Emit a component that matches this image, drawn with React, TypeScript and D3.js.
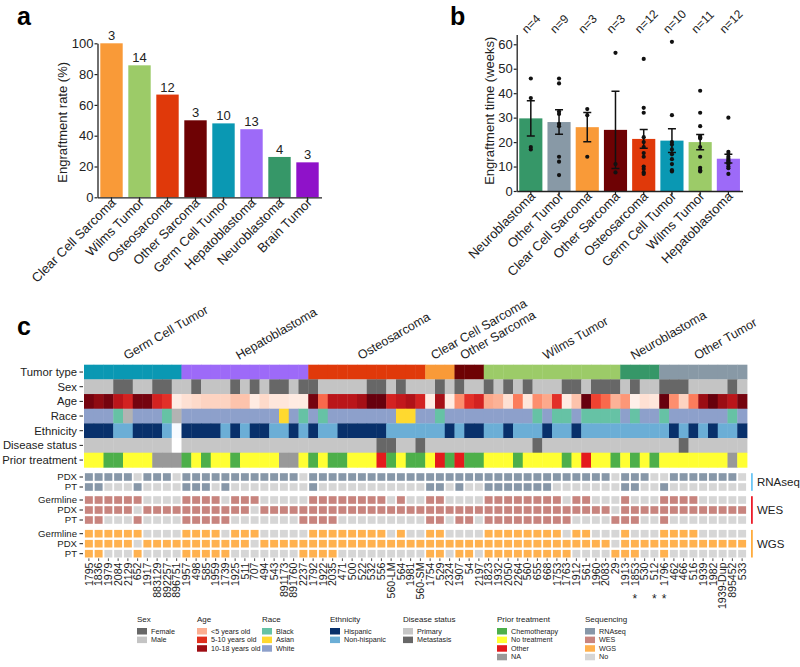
import React, { useEffect, useRef } from 'react';
import * as d3 from 'd3';

const FONT = "'Liberation Sans', Arial, Helvetica, sans-serif";

// ---- panel a: engraftment rate
const rateTypes = ['Clear Cell Sarcoma', 'Wilms Tumor', 'Osteosarcoma', 'Other Sarcoma', 'Germ Cell Tumor', 'Hepatoblastoma', 'Neuroblastoma', 'Brain Tumor'];
const rateValues = [100, 85.7, 66.7, 50, 48, 44.2, 26.2, 22.7];
const rateCounts = [3, 14, 12, 3, 10, 13, 4, 3];

// ---- panel b: engraftment time
const timeTypes = ['Neuroblastoma', 'Other Tumor', 'Clear Cell Sarcoma', 'Other Sarcoma', 'Osteosarcoma', 'Germ Cell Tumor', 'Wilms Tumor', 'Hepatoblastoma'];
const timeMeans = [29.7, 28.2, 26.1, 25.0, 21.3, 20.6, 20.0, 13.2];
const timeSem = [7.2, 5.0, 6.0, 15.8, 3.8, 4.9, 3.1, 1.8];
const timeCounts = [4, 9, 3, 3, 12, 10, 11, 12];
const timePoints = [
  [46, 38, 18, 17],
  [46, 44, 32.5, 31.5, 27.5, 26.5, 14, 12, 6.5],
  [33.5, 31, 14],
  [56.5, 11, 7.6],
  [54, 34, 32, 22, 20, 18, 15.5, 14, 10, 9, 7.6, 7],
  [61, 31, 20, 19, 17, 15, 13, 11, 8.5, 8],
  [41, 32, 26.5, 22.5, 21.5, 18, 14, 9.5, 8.5, 8, 22],
  [30, 16, 15, 14, 13.2, 12.5, 12, 11.5, 11, 10, 9.3, 7],
];

// ---- panel c: sample annotation heatmap
const samples = ['1795', '1836', '1979', '2084', '2129', '652', '1917', '883129', '892257', '896751',
  '1957', '498', '585', '1959', '1739', '1925', '511', '707', '494', '543', '891173', '891760', '2237',
  '1792', '1922', '2035', '471', '500', '522', '532', '556', '560-LM', '564', '1981', '560-SM',
  '1754', '529', '2324', '1907', '54', '2197',
  '1823', '1932', '2050', '2264', '560', '655', '668', '1753', '1763', '1912', '561', '1960', '2083', '29',
  '1913', '1853', '530', '512',
  '1796', '462', '466', '516', '1939', '1982', '1939-Dup', '895452', '533'];
const starred = ['1853', '512', '1796'];
const groupNames = ['Germ Cell Tumor', 'Hepatoblastoma', 'Osteosarcoma', 'Clear Cell Sarcoma', 'Other Sarcoma', 'Wilms Tumor', 'Neuroblastoma', 'Other Tumor'];
const groupSizes = [10, 13, 12, 3, 3, 14, 4, 9];
const sexCodes = ('MMMFFMMFFM' + 'MFMMMFMFMF' + 'FMFFMMMMMF' + 'FMFMMMFMFM' + 'MFMFMFMMMF' + 'FMFFFMFMMF' + 'FFMMMMFM').split('');
const ages = [17.5, 16.5, 17.5, 14.5, 13, 17.5, 17.5, 13, 12, 1,
  2, 2.5, 3, 3, 3, 4, 4, 1, 2.5, 1.5,
  1.5, 1, 1, 17.5, 9, 14.5, 14.5, 14.5, 15.5, 18,
  18, 13, 14, 15, 13, 1, 15.5, 1, 7, 12,
  13, 5.5, 5, 2, 8, 1.5, 7, 5.5, 12, 1,
  4, 18, 11, 9, 5, 6.5, 0.5, 2, 1.5, 18,
  7, 3, 8, 16, 18, 16, 14.5, 17.5];
const raceCodes = ('WWWBUWWWBU' + 'WWWWWWWWWW' + 'AWBWBWWWWW' + 'WWAAWWBWWW' + 'WWWWWWBWBB' + 'WBBBBWBWWB' + 'WWWWWWBW').split('');
const ethnicityCodes = ('HHHNNHHHNX' + 'HHHHNHNHHN' + 'NHNHNNHHHH' + 'HNNNNNNHNH' + 'HNNHNNNHNN' + 'HNNNNNNNNN' + 'HNHNHNNH').split('');
const diseaseCodes = ('PPPPPPPPPX' + 'PPPPPPPPPP' + 'PPPPPPPPPP' + 'MMPPMPPPPP' + 'PPPPPPMPPP' + 'PPPPPPPPPP' + 'PMPPPPPP').split('');
const priorCodes = ('YYCCYYYAAA' + 'CYCYYCYYYY' + 'AAYCYCCYYY' + 'OCYCCYOCOC' + 'CYYYCYYYYC' + 'YOYYCYCYCY' + 'YYYYYYAY').split('');
const rnaPdx = '1111101110' + '1111111111' + '1101111111' + '1111111111' + '1111111111' + '1111011100' + '11111110';
const rnaPt = '1100010000' + '1110100000' + '0001000000' + '0000011010' + '0111111100' + '0000011001' + '00000000';
const wesGermline = '1111110000' + '1111011100' + '0001111111' + '1010011000' + '0111111110' + '1100010001' + '11100000';
const wesPdx = '1111101111' + '1111111011' + '1111111111' + '1111111111' + '1111111111' + '1111011111' + '11111111';
const wesPt = '1100010000' + '1111100000' + '0011110000' + '0000011011' + '0111111111' + '0000111001' + '00000000';
const wgsGermline = '1111110000' + '1111011100' + '0001111111' + '1010011000' + '0111111110' + '1100010001' + '11100000';
const wgsPdx = '1111101111' + '1111111011' + '1111111111' + '1111111111' + '1111111111' + '1111011111' + '11111111';
const wgsPt = '1100010000' + '1111100000' + '0011110000' + '0000011011' + '0111111111' + '0000111001' + '00000000';

const typeColors: Record<string, string> = {
  'Germ Cell Tumor': '#0a98b3',
  'Hepatoblastoma': '#9d6af8',
  'Osteosarcoma': '#e0390a',
  'Clear Cell Sarcoma': '#f99a38',
  'Other Sarcoma': '#6e0204',
  'Wilms Tumor': '#9ccb68',
  'Neuroblastoma': '#369768',
  'Other Tumor': '#8899a6',
  'Brain Tumor': '#8f12c9',
};
const sexColors: Record<string, string> = { F: '#676767', M: '#c4c4c4' };
const raceColors: Record<string, string> = { W: '#8da0cb', B: '#66c2a5', A: '#ffd92f', U: '#b3b3b3' };
const ethnicityColors: Record<string, string> = { H: '#08306b', N: '#6baed6', X: '#f7fbff' };
const diseaseColors: Record<string, string> = { P: '#c6c6c6', M: '#676767', X: '#ffffff' };
const priorColors: Record<string, string> = { C: '#4daf4a', Y: '#ffff33', O: '#e41a1c', A: '#999999' };
const ageColor = d3.scaleSequential(d3.interpolateReds).domain([0, 18]);
const seqNo = '#d6d6d6';

const legends = [
  { title: 'Sex', items: [['Female', '#676767'], ['Male', '#c4c4c4']] },
  { title: 'Age', items: [['<5 years old', '#fcae91'], ['5-10 years old', '#e0301e'], ['10-18 years old', '#9e0d14']] },
  { title: 'Race', items: [['Black', '#66c2a5'], ['Asian', '#ffd92f'], ['White', '#8da0cb']] },
  { title: 'Ethnicity', items: [['Hispanic', '#08306b'], ['Non-hispanic', '#6baed6']] },
  { title: 'Disease status', items: [['Primary', '#c6c6c6'], ['Metastasis', '#676767']] },
  { title: 'Prior treatment', items: [['Chemotherapy', '#4daf4a'], ['No treatment', '#ffff33'], ['Other', '#e41a1c'], ['NA', '#999999']] },
  { title: 'Sequencing', items: [['RNAseq', '#8797a8'], ['WES', '#c8847e'], ['WGS', '#ffb14e'], ['No', seqNo]] },
];
const legendX = [137, 197, 262, 330, 403, 497, 585];

type Sel = d3.Selection<SVGGElement, unknown, null, undefined>;

function styleAxis(ax: Sel, size: number) {
  ax.select('.domain').attr('stroke', '#222').attr('stroke-width', 1.3);
  ax.selectAll('.tick line').attr('stroke', '#222').attr('stroke-width', 1.2);
  ax.selectAll('.tick text').attr('fill', '#222').attr('font-size', size).attr('font-family', FONT);
}

function drawRate(root: Sel) {
  const g = root.append('g');
  const x = d3.scaleBand().domain(rateTypes).range([97.5, 321.5]).paddingInner(0.2).paddingOuter(0.1);
  const y = d3.scaleLinear().domain([0, 100]).range([197.3, 43.3]);
  g.selectAll('rect.bar').data(rateTypes).join('rect')
    .attr('x', d => x(d)!).attr('width', x.bandwidth())
    .attr('y', (d, i) => y(rateValues[i])).attr('height', (d, i) => y(0) - y(rateValues[i]))
    .attr('fill', d => typeColors[d]);
  g.selectAll('text.cnt').data(rateTypes).join('text')
    .attr('x', d => x(d)! + x.bandwidth() / 2).attr('y', (d, i) => y(rateValues[i]) - 3)
    .attr('text-anchor', 'middle').attr('font-size', 13).attr('fill', '#222')
    .text((d, i) => rateCounts[i]);
  const ya = g.append('g').attr('transform', `translate(${x.range()[0]},0)`)
    .call(d3.axisLeft(y).tickValues([0, 20, 40, 60, 80, 100]).tickSize(3).tickPadding(1).tickSizeOuter(0));
  styleAxis(ya, 13);
  const xa = g.append('g').attr('transform', `translate(0,${y(0)})`)
    .call(d3.axisBottom(x).tickSize(4).tickSizeOuter(0));
  styleAxis(xa, 13);
  xa.selectAll('.tick text').attr('text-anchor', 'end').attr('x', 0).attr('y', 0)
    .attr('dy', '0.35em').attr('transform', 'translate(2,3) rotate(-45)');
  g.append('text').attr('transform', `translate(67,${(y(0) + y(100)) / 2 + 2}) rotate(-90)`)
    .attr('text-anchor', 'middle').attr('font-size', 13).attr('fill', '#222').text('Engraftment rate (%)');
  g.append('text').attr('x', 17).attr('y', 25).attr('font-size', 25).attr('font-weight', 'bold').text('a');
}

function drawTime(root: Sel) {
  const g = root.append('g');
  const x = d3.scaleBand().domain(timeTypes).range([516.7, 742.5]).paddingInner(0.18).paddingOuter(0.09);
  const y = d3.scaleLinear().domain([0, 64]).range([191, 34.5]);
  const cx = (d: string) => x(d)! + x.bandwidth() / 2;
  g.selectAll('rect.bar').data(timeTypes).join('rect')
    .attr('x', d => x(d)!).attr('width', x.bandwidth())
    .attr('y', (d, i) => y(timeMeans[i])).attr('height', (d, i) => y(0) - y(timeMeans[i]))
    .attr('fill', d => typeColors[d]);
  timeTypes.forEach((d, i) => {
    const lo = y(timeMeans[i] - timeSem[i]);
    const hi = y(timeMeans[i] + timeSem[i]);
    const c = cx(d);
    g.append('path').attr('d', `M${c},${lo}V${hi}M${c - 4},${lo}H${c + 4}M${c - 4},${hi}H${c + 4}`)
      .attr('stroke', '#111').attr('stroke-width', 1.5).attr('fill', 'none');
    g.selectAll(null).data(timePoints[i]).join('circle')
      .attr('cx', c).attr('cy', v => y(v)).attr('r', 2.1).attr('fill', '#111');
    g.append('text').attr('transform', `translate(${c - 4},34) rotate(-45)`)
      .attr('font-size', 12).attr('fill', '#222').text(`n=${timeCounts[i]}`);
  });
  const ya = g.append('g').attr('transform', `translate(${x.range()[0]},0)`)
    .call(d3.axisLeft(y).tickValues([0, 10, 20, 30, 40, 50, 60]).tickSize(3).tickPadding(1).tickSizeOuter(0));
  styleAxis(ya, 13);
  const xa = g.append('g').attr('transform', `translate(0,${y(0)})`)
    .call(d3.axisBottom(x).tickSize(4).tickSizeOuter(0));
  styleAxis(xa, 13);
  xa.selectAll('.tick text').attr('text-anchor', 'end').attr('x', 0).attr('y', 0)
    .attr('dy', '0.35em').attr('transform', 'translate(2,3) rotate(-45)');
  g.append('text').attr('transform', `translate(494,${(y(0) + y(64)) / 2 - 2}) rotate(-90)`)
    .attr('text-anchor', 'middle').attr('font-size', 13).attr('fill', '#222').text('Engraftment time (weeks)');
  g.append('text').attr('x', 450).attr('y', 25).attr('font-size', 25).attr('font-weight', 'bold').text('b');
}

function drawHeat(root: Sel) {
  const g = root.append('g');
  const idx = d3.range(samples.length);
  const x = d3.scaleBand<number>().domain(idx).range([84, 747]);
  const bw = x.bandwidth();
  const cx = (i: number) => x(i)! + bw / 2;
  const tumorType: string[] = [];
  groupNames.forEach((n, k) => { for (let j = 0; j < groupSizes[k]; j++) tumorType.push(n); });

  const annY0 = 364.7;
  const annH = 14.67;
  const annRows = [
    { name: 'Tumor type', fill: (i: number) => typeColors[tumorType[i]] },
    { name: 'Sex', fill: (i: number) => sexColors[sexCodes[i]] },
    { name: 'Age', fill: (i: number) => ageColor(ages[i]) },
    { name: 'Race', fill: (i: number) => raceColors[raceCodes[i]] },
    { name: 'Ethnicity', fill: (i: number) => ethnicityColors[ethnicityCodes[i]] },
    { name: 'Disease status', fill: (i: number) => diseaseColors[diseaseCodes[i]] },
    { name: 'Prior treatment', fill: (i: number) => priorColors[priorCodes[i]] },
  ];
  annRows.forEach((row, r) => {
    const yy = annY0 + r * annH;
    g.selectAll(null).data(idx).join('rect')
      .attr('x', i => x(i)!).attr('y', yy).attr('width', bw + 0.4).attr('height', annH + 0.3)
      .attr('fill', i => row.fill(i));
    g.append('line').attr('x1', 79.5).attr('x2', 83).attr('y1', yy + annH / 2).attr('y2', yy + annH / 2)
      .attr('stroke', '#222').attr('stroke-width', 1);
    g.append('text').attr('x', 77).attr('y', yy + annH / 2).attr('dy', '0.35em')
      .attr('text-anchor', 'end').attr('font-size', 11.3).attr('fill', '#222').text(row.name);
  });

  // group titles
  let start = 0;
  groupNames.forEach((n, k) => {
    const mid = (x(start)! + x(start + groupSizes[k] - 1)! + bw) / 2;
    g.append('text').attr('transform', `translate(${mid - 6},360) rotate(-30)`)
      .attr('font-size', 12.5).attr('fill', '#222').text(n);
    start += groupSizes[k];
  });

  const blocks = [
    { name: 'RNAseq', y0: 472.2, color: '#8797a8', bar: '#6cc6f4', rows: [['PDX', rnaPdx], ['PT', rnaPt]] },
    { name: 'WES', y0: 495.2, color: '#c8847e', bar: '#ec1c2a', rows: [['Germline', wesGermline], ['PDX', wesPdx], ['PT', wesPt]] },
    { name: 'WGS', y0: 528.9, color: '#ffb14e', bar: '#ffac3e', rows: [['Germline', wgsGermline], ['PDX', wgsPdx], ['PT', wgsPt]] },
  ];
  const pitch = 10;
  blocks.forEach(b => {
    b.rows.forEach(([label, vals], r) => {
      const top = b.y0 + r * pitch;
      g.selectAll(null).data(idx).join('rect')
        .attr('x', i => x(i)! + 0.9).attr('y', top + 1).attr('width', bw - 1.8).attr('height', 7.6)
        .attr('fill', i => (vals[i] === '1' ? b.color : seqNo));
      g.append('line').attr('x1', 79.5).attr('x2', 83).attr('y1', top + 4.8).attr('y2', top + 4.8)
        .attr('stroke', '#222').attr('stroke-width', 1);
      g.append('text').attr('x', 77).attr('y', top + 4.8).attr('dy', '0.35em')
        .attr('text-anchor', 'end').attr('font-size', 9.6).attr('fill', '#222').text(label);
    });
    const y1 = b.y0 + 1;
    const y2 = b.y0 + (b.rows.length - 1) * pitch + 8.6;
    g.append('rect').attr('x', 751).attr('y', y1).attr('width', 1.8).attr('height', y2 - y1).attr('fill', b.bar);
    g.append('text').attr('x', 757).attr('y', (y1 + y2) / 2).attr('dy', '0.35em')
      .attr('font-size', 11.5).attr('fill', '#222').text(b.name);
  });

  // sample labels
  g.selectAll('line.st').data(idx).join('line')
    .attr('x1', i => cx(i)).attr('x2', i => cx(i)).attr('y1', 558.3).attr('y2', 561)
    .attr('stroke', '#222').attr('stroke-width', 0.8);
  g.selectAll('text.st').data(idx).join('text')
    .attr('transform', i => `translate(${cx(i) + 3.7},562.5) rotate(-90)`)
    .attr('text-anchor', 'end').attr('font-size', 10.6).attr('fill', '#222')
    .text(i => samples[i]);
  g.selectAll('text.star').data(idx.filter(i => starred.includes(samples[i]))).join('text')
    .attr('x', i => cx(i)).attr('y', 603).attr('text-anchor', 'middle')
    .attr('font-size', 12).attr('fill', '#222').text('*');

  g.append('text').attr('x', 17).attr('y', 335).attr('font-size', 25).attr('font-weight', 'bold').text('c');

  // legends
  legends.forEach((lg, k) => {
    const lx = legendX[k];
    g.append('text').attr('x', lx).attr('y', 622).attr('font-size', 8).attr('fill', '#222').text(lg.title);
    lg.items.forEach(([lab, col], j) => {
      const yy = 631 + j * 8.6;
      g.append('rect').attr('x', lx).attr('y', yy - 3).attr('width', 10).attr('height', 6.5).attr('fill', col);
      g.append('text').attr('x', lx + 14).attr('y', yy).attr('dy', '0.35em')
        .attr('font-size', 7.2).attr('fill', '#222').text(lab);
    });
  });
}

export default function App() {
  const ref = useRef<SVGSVGElement>(null);
  useEffect(() => {
    const svg = d3.select(ref.current);
    svg.selectAll('*').remove();
    const root = svg.append('g').attr('font-family', FONT) as unknown as Sel;
    drawRate(root);
    drawTime(root);
    drawHeat(root);
  }, []);
  return (
    <svg ref={ref} width={800} height={667}
      style={{ position: 'absolute', left: 0, top: 0, background: '#fff', fontFamily: FONT }} />
  );
}
